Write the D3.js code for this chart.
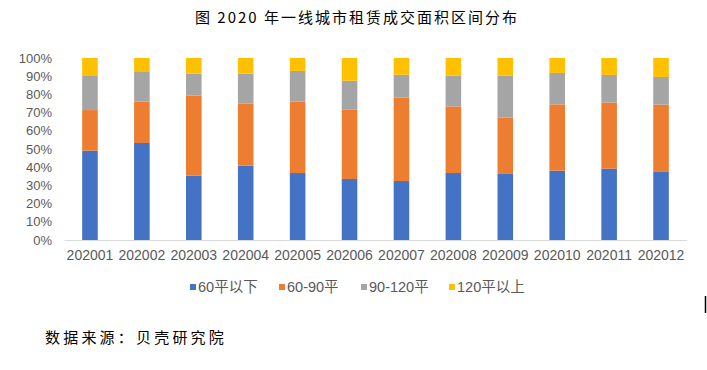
<!DOCTYPE html>
<html>
<head>
<meta charset="utf-8">
<script src="https://cdn.jsdelivr.net/npm/d3@7"></script>
<style>
  body { margin: 0; background: #fff; }
  svg { display: block; }
</style>
</head>
<body>
<div id="chart"></div>
<script>
// months on the x axis
const months = ["202001", "202002", "202003", "202004", "202005", "202006",
  "202007", "202008", "202009", "202010", "202011", "202012"];

// share of each area band, in percent
const below60 = [49.1, 53.3, 35.3, 40.8, 36.8, 33.5, 32.4, 36.8, 36.3, 38.1, 39.2, 37.4];
const from60to90 = [22.3, 22.7, 44.0, 34.1, 39.2, 38.3, 45.8, 36.6, 30.9, 36.4, 36.3, 37.0];
const from90to120 = [18.7, 16.3, 12.1, 16.5, 16.9, 15.7, 12.6, 16.9, 23.1, 17.3, 15.2, 15.2];
const above120 = [9.9, 7.7, 8.6, 8.6, 7.1, 12.5, 9.2, 9.7, 9.7, 8.2, 9.3, 10.4];

const seriesNames = ["60平以下", "60-90平", "90-120平", "120平以上"];
const seriesColors = ["#4472C4", "#ED7D31", "#A5A5A5", "#FFC000"];
const yTicks = [0, 10, 20, 30, 40, 50, 60, 70, 80, 90, 100];

const titleText = "图 2020 年一线城市租赁成交面积区间分布";
const sourceText = "数据来源：贝壳研究院";

function drawChart() {
  const width = 707;
  const height = 370;
  const margin = { top: 58, right: 20, bottom: 130, left: 64 };
  const boundedWidth = 687 - margin.left;
  const boundedHeight = 240 - margin.top;

  const latin = "'Liberation Sans', 'Noto Sans CJK SC', sans-serif";
  const cjk = "'Noto Sans CJK SC', sans-serif";

  const columns = [below60, from60to90, from90to120, above120];
  const data = months.map((m, i) => {
    const row = { month: m };
    seriesNames.forEach((k, j) => { row[k] = columns[j][i]; });
    return row;
  });

  const stackedData = d3.stack()
    .keys(seriesNames)
    .offset(d3.stackOffsetExpand)(data);

  const wrapper = d3.select("#chart")
    .append("svg")
      .attr("width", width)
      .attr("height", height);

  const bounds = wrapper.append("g")
      .attr("transform", `translate(${margin.left}, ${margin.top})`);

  const xScale = d3.scaleBand()
    .domain(months)
    .range([0, boundedWidth])
    .paddingInner(0.7)
    .paddingOuter(0.35);

  const yScale = d3.scaleLinear()
    .domain([0, 100])
    .range([boundedHeight, 0]);

  const colorScale = d3.scaleOrdinal()
    .domain(seriesNames)
    .range(seriesColors);

  // bars
  bounds.append("g")
    .selectAll("g")
    .data(stackedData)
    .join("g")
      .attr("fill", d => colorScale(d.key))
    .selectAll("rect")
    .data(d => d)
    .join("rect")
      .attr("x", d => xScale(d.data.month))
      .attr("width", xScale.bandwidth())
      .attr("y", d => yScale(d[1] * 100))
      .attr("height", d => yScale(d[0] * 100) - yScale(d[1] * 100));

  // y axis, labels only
  bounds.append("g")
    .attr("transform", "translate(-12, 0)")
    .call(d3.axisLeft(yScale).tickValues(yTicks).tickFormat(d => d + "%").tickSize(0))
    .call(g => g.select(".domain").remove())
    .call(g => g.selectAll(".tick text")
      .attr("x", 0)
      .attr("fill", "#595959")
      .attr("font-size", 13)
      .attr("font-family", latin));

  // x axis
  bounds.append("g")
    .attr("transform", `translate(0, ${boundedHeight})`)
    .call(d3.axisBottom(xScale).tickSize(0).tickPadding(10))
    .call(g => g.select(".domain").attr("stroke", "#D9D9D9").attr("d", `M0.5,0.5H${boundedWidth}`))
    .call(g => g.selectAll(".tick text")
      .attr("fill", "#595959")
      .attr("font-size", 14)
      .attr("font-family", latin));

  // legend
  const legendX = [190, 279, 361, 449];
  const legend = wrapper.append("g")
    .selectAll("g")
    .data(seriesNames)
    .join("g")
      .attr("transform", (d, i) => `translate(${legendX[i]}, 284)`);

  legend.append("rect")
    .attr("width", 6)
    .attr("height", 6)
    .attr("fill", d => colorScale(d));

  legend.append("text")
    .attr("x", 8)
    .attr("y", 8)
    .attr("fill", "#595959")
    .attr("font-size", 14.5)
    .attr("font-family", latin)
    .text(d => d);

  // title
  wrapper.append("text")
    .attr("x", 357)
    .attr("y", 23)
    .attr("text-anchor", "middle")
    .attr("font-size", 15)
    .attr("letter-spacing", 2)
    .attr("font-family", cjk)
    .text(titleText);

  // source note
  wrapper.append("text")
    .attr("x", 45)
    .attr("y", 343)
    .attr("font-size", 15)
    .attr("letter-spacing", 3.2)
    .attr("font-family", cjk)
    .text(sourceText);

  // stray caret mark at the right edge
  wrapper.append("line")
    .attr("x1", 705.5).attr("x2", 705.5)
    .attr("y1", 296).attr("y2", 313)
    .attr("stroke", "#000")
    .attr("stroke-width", 1.5);
}
drawChart();
</script>
</body>
</html>
